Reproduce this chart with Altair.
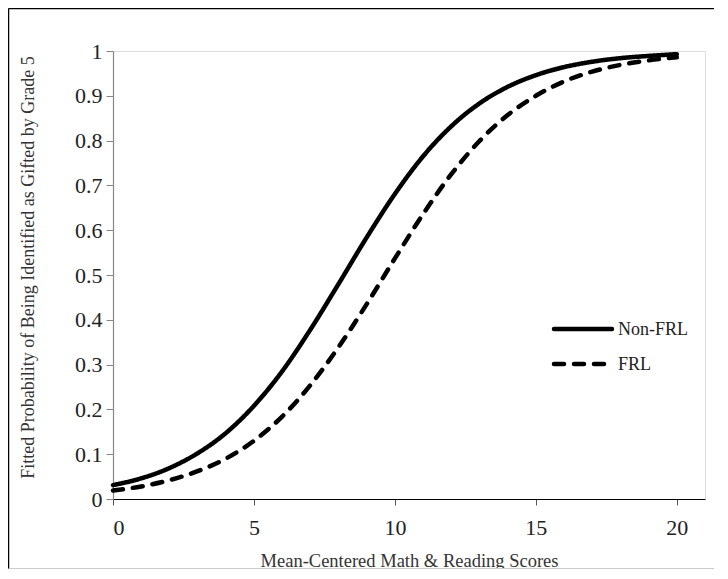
import altair as alt
import pandas as pd

# Data
scores = list(range(21))
non_frl = [0.031, 0.046, 0.069, 0.102, 0.147, 0.208, 0.285, 0.378, 0.480, 0.584,
           0.681, 0.765, 0.832, 0.883, 0.920, 0.946, 0.964, 0.976, 0.984, 0.989, 0.993]
frl = [0.019, 0.028, 0.042, 0.062, 0.090, 0.130, 0.184, 0.254, 0.339, 0.435,
       0.537, 0.636, 0.725, 0.799, 0.857, 0.900, 0.932, 0.954, 0.969, 0.979, 0.986]
groups = ["Non-FRL", "FRL"]
x_ticks = [0, 5, 10, 15, 20]
y_ticks = [0, 0.1, 0.2, 0.3, 0.4, 0.5, 0.6, 0.7, 0.8, 0.9, 1]

df = pd.DataFrame({
    "score": scores + scores,
    "prob": non_frl + frl,
    "group": [groups[0]] * len(scores) + [groups[1]] * len(scores),
})
legend_df = pd.DataFrame({"group": groups})

W, H = 592, 448
PAD = {"left": 105, "top": 43, "right": 10, "bottom": 70}
FONT = "Liberation Serif"
DASH = alt.Scale(domain=groups, range=[[1, 0], [10, 10]])

lines = alt.Chart(df).mark_line(
    color="black", strokeWidth=4.5, strokeCap="round", interpolate="monotone"
).encode(
    x=alt.X("score:Q",
            scale=alt.Scale(domain=[0, 21], nice=False),
            axis=alt.Axis(values=x_ticks, title="Mean-Centered Math & Reading Scores",
                          grid=False, domainColor="black", domainWidth=1.2,
                          tickColor="#555555", tickSize=6, labelPadding=12,
                          labelFont=FONT, labelFontSize=22, labelColor="#222222",
                          titleFont=FONT, titleFontSize=18.5, titleFontWeight="normal",
                          titleColor="#333333", titleY=52)),
    y=alt.Y("prob:Q",
            scale=alt.Scale(domain=[0, 1], nice=False),
            axis=alt.Axis(values=y_ticks, format="~g",
                          title="Fitted Probability of Being Identified as Gifted by Grade 5",
                          grid=False, domainColor="#868686", domainWidth=1.2,
                          tickColor="#868686", tickSize=7, labelPadding=4,
                          labelFont=FONT, labelFontSize=22, labelColor="#222222",
                          titleFont=FONT, titleFontSize=18, titleFontWeight="normal",
                          titleColor="#333333", titleX=-76, titleY=216)),
    strokeDash=alt.StrokeDash("group:N", scale=DASH, legend=None),
)

# Hand-built legend (rows placed by a point scale of their own)
LEG_Y = alt.Y("group:N",
              scale=alt.Scale(type="point", domain=groups, range=[278, 313], padding=0),
              axis=None)
leg_keys = alt.Chart(legend_df).mark_rule(
    color="black", strokeWidth=4.5, strokeCap="round"
).encode(
    x=alt.value(441), x2=alt.value(499), y=LEG_Y,
    strokeDash=alt.StrokeDash("group:N", scale=DASH, legend=None),
)
leg_text = alt.Chart(legend_df).mark_text(
    align="left", baseline="middle", font=FONT, fontSize=18, color="#222222", dy=1
).encode(
    x=alt.value(505), y=LEG_Y, text="group:N",
)
legend_layer = alt.layer(leg_keys, leg_text)

frame_df = pd.DataFrame({"a": [0]})
frame_top = alt.Chart(frame_df).mark_rule(color="black", strokeWidth=1.5).encode(
    x=alt.value(-104.5), x2=alt.value(W + 9), y=alt.value(-42.5))
frame_left = alt.Chart(frame_df).mark_rule(color="black", strokeWidth=1.5).encode(
    x=alt.value(-104.5), y=alt.value(-42.5), y2=alt.value(H + 70))
frame_bottom = alt.Chart(frame_df).mark_rule(color="#cccccc", strokeWidth=1).encode(
    x=alt.value(-104.5), x2=alt.value(W + 9), y=alt.value(H + 69.5))
frame = alt.layer(frame_top, frame_left, frame_bottom)

chart = alt.layer(frame, lines, legend_layer).resolve_scale(
    y="independent"
).properties(
    width=W, height=H, padding=PAD,
    autosize=alt.AutoSizeParams(type="none"),
).configure_view(stroke=None).configure(background="white")

chart.save("out.html", embed_options={"renderer": "svg", "actions": False})
